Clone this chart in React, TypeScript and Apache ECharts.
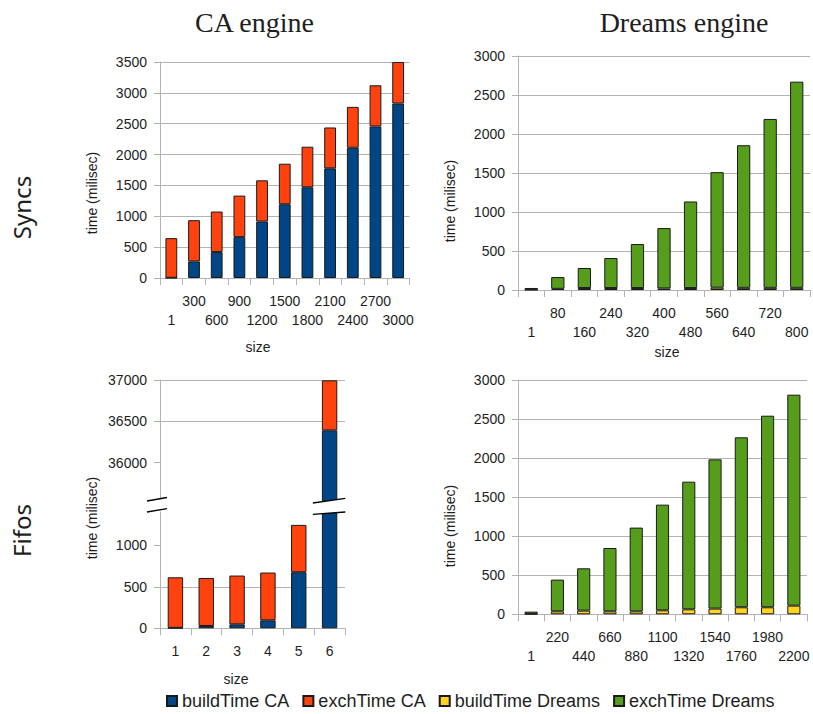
import React, { useEffect, useRef } from 'react';
import * as echarts from 'echarts';

// ---- data ----
const syncCaSizes = ['1', '300', '600', '900', '1200', '1500', '1800', '2100', '2400', '2700', '3000'];
const syncCaBuild = [3, 269, 420, 662, 915, 1195, 1470, 1777, 2111, 2456, 2827];
const syncCaExch = [643, 668, 657, 673, 668, 657, 657, 662, 662, 667, 673];

const syncDreamsSizes = ['1', '80', '160', '240', '320', '400', '480', '560', '640', '720', '800'];
const syncDreamsBuild = [4, 15, 25, 25, 25, 20, 25, 30, 28, 28, 28];
const syncDreamsExch = [22, 151, 257, 385, 564, 774, 1110, 1481, 1828, 2165, 2643];

const fifoCaSizes = ['1', '2', '3', '4', '5', '6'];
const fifoCaBuild = [5, 28, 48, 96, 675, 36391];
const fifoCaExch = [609, 578, 587, 575, 570, 605];

const fifoDreamsSizes = ['1', '220', '440', '660', '880', '1100', '1320', '1540', '1760', '1980', '2200'];
const fifoDreamsBuild = [5, 38, 47, 38, 38, 51, 64, 73, 90, 90, 111];
const fifoDreamsExch = [29, 406, 542, 811, 1072, 1353, 1634, 1911, 2176, 2453, 2701];

const seriesNames = ['buildTime CA', 'exchTime CA', 'buildTime Dreams', 'exchTime Dreams'];
const colors = ['#004586', '#ff420e', '#ffd320', '#579d1c'];

// broken axis ranges for the CA / Fifos chart
const upperRange = [35500, 37000];
const lowerRange = [0, 1400];

const GRID = '#b3b3b3';
const TXT = '#1e1e1e';
const SANS = '"Liberation Sans", Arial, sans-serif';

export default function App() {
  const ref = useRef<HTMLDivElement>(null);

  useEffect(() => {
    const chart = echarts.init(ref.current!, null, { renderer: 'svg' });

    const grids = [
      { left: 160, top: 62, width: 249.5, height: 216 },
      { left: 518, top: 56, width: 292, height: 234 },
      { left: 160, top: 380, width: 185, height: 124 },
      { left: 160, top: 512, width: 185, height: 116.3 },
      { left: 518, top: 380, width: 289, height: 234.3 },
    ];

    const altFormatter = (v: string, i: number) => (i % 2 === 0 ? '\n' + v : v);

    const xAxisBase = (gi: number, data: string[], alt: boolean, show = true) => ({
      type: 'category',
      gridIndex: gi,
      data,
      show,
      axisLine: { show, lineStyle: { color: GRID, width: 1 } },
      axisTick: { show, length: 7, lineStyle: { color: GRID } },
      axisLabel: {
        show,
        interval: 0,
        fontSize: 14,
        fontFamily: SANS,
        color: TXT,
        margin: 13,
        lineHeight: 19,
        formatter: alt ? altFormatter : undefined,
      },
      splitLine: { show: false },
    });

    const yAxisBase = (gi: number, min: number, max: number, extra: any = {}) => ({
      type: 'value',
      gridIndex: gi,
      min,
      max,
      interval: 500,
      axisLine: { show: true, lineStyle: { color: GRID, width: 1 } },
      axisTick: { show: true, length: 6, lineStyle: { color: GRID }, ...(extra.axisTick || {}) },
      axisLabel: {
        fontSize: 14,
        fontFamily: SANS,
        color: TXT,
        margin: 13,
        formatter: (v: number) => String(v),
        ...(extra.axisLabel || {}),
      },
      splitLine: { show: true, lineStyle: { color: GRID, width: 1 }, ...(extra.splitLine || {}) },
    });

    const bar = (nameIdx: number, gi: number, data: any[], width: string) => ({
      type: 'bar',
      name: seriesNames[nameIdx],
      xAxisIndex: gi,
      yAxisIndex: gi,
      stack: 'stack' + gi,
      data,
      barWidth: width,
      clip: true,
      itemStyle: { color: colors[nameIdx], borderColor: '#1a1a1a', borderWidth: 1 },
      emphasis: { disabled: true },
    });

    // split Fifos CA data into upper / lower segments
    const fifoTotals = fifoCaBuild.map((b, i) => b + fifoCaExch[i]);
    const upperBuild = fifoCaBuild.map((b, i) => (fifoTotals[i] > upperRange[0] ? b : '-'));
    const upperExch = fifoCaExch.map((e, i) => (fifoTotals[i] > upperRange[0] ? e : '-'));
    const lowerBuild = fifoCaBuild.slice();
    const lowerExch = fifoCaExch.map((e, i) => (fifoCaBuild[i] < lowerRange[1] ? e : '-'));

    // break decoration geometry (derived from grid layout)
    const bl = grids[3];
    const n = fifoCaSizes.length;
    const cx = bl.left + (bl.width * (n - 0.5)) / n;
    const half = (bl.width / n) * 0.5 / 2;
    const bxl = cx - half - 9;
    const bxr = cx + half + 8;
    const ax = bl.left;

    const breakGraphics: any[] = [
      { type: 'polygon', z: 100, shape: { points: [[ax - 13, 501], [ax + 7, 497.5], [ax + 7, 508.7], [ax - 13, 512]] }, style: { fill: '#fff' } },
      { type: 'line', z: 101, shape: { x1: ax - 13, y1: 501, x2: ax + 7, y2: 497.5 }, style: { stroke: '#000', lineWidth: 1.3 } },
      { type: 'line', z: 101, shape: { x1: ax - 13, y1: 512, x2: ax + 7, y2: 508.7 }, style: { stroke: '#000', lineWidth: 1.3 } },
      { type: 'polygon', z: 100, shape: { points: [[bxl, 503], [bxr, 498.3], [bxr, 512], [bxl, 514.3]] }, style: { fill: '#fff' } },
      { type: 'line', z: 101, shape: { x1: bxl, y1: 503, x2: bxr, y2: 498.3 }, style: { stroke: '#000', lineWidth: 1.3 } },
      { type: 'line', z: 101, shape: { x1: bxl, y1: 514.3, x2: bxr, y2: 512 }, style: { stroke: '#000', lineWidth: 1.3 } },
    ];

    const text = (t: string, x: number, y: number, font: string, rotate = false) => ({
      type: 'text',
      x,
      y,
      rotation: rotate ? Math.PI / 2 : 0,
      z: 50,
      style: {
        text: t,
        font,
        fill: TXT,
        align: 'center',
        verticalAlign: 'middle',
        textAlign: 'center',
        textVerticalAlign: 'middle',
      },
    });

    const labelFont = '14px "Liberation Sans", Arial, sans-serif';
    const titleFont = '28px "Liberation Serif", "DejaVu Serif", serif';
    const rowFont = '24px "Noto Sans", "Open Sans", sans-serif';

    const option: any = {
      animation: false,
      backgroundColor: '#fff',
      grid: grids.map((g) => ({ ...g, containLabel: false })),
      xAxis: [
        xAxisBase(0, syncCaSizes, true),
        xAxisBase(1, syncDreamsSizes, true),
        xAxisBase(2, fifoCaSizes, false, false),
        xAxisBase(3, fifoCaSizes, false),
        xAxisBase(4, fifoDreamsSizes, true),
      ],
      yAxis: [
        yAxisBase(0, 0, 3500),
        yAxisBase(1, 0, 3000),
        yAxisBase(2, upperRange[0], upperRange[1], {
          axisLabel: { showMinLabel: false },
          axisTick: { customValues: [36000, 36500, 37000] },
          splitLine: { showMinLine: false },
        }),
        yAxisBase(3, lowerRange[0], lowerRange[1], {
          axisLabel: { showMaxLabel: false },
          axisTick: { customValues: [0, 500, 1000] },
          splitLine: { showMaxLine: false },
        }),
        yAxisBase(4, 0, 3000),
      ],
      legend: {
        data: seriesNames,
        left: 166,
        top: 692,
        padding: 0,
        itemWidth: 10,
        itemHeight: 10,
        itemGap: 13,
        icon: 'rect',
        selectedMode: false,
        textStyle: { fontSize: 18, fontFamily: SANS, color: TXT, padding: [0, 0, 0, 0] },
      },
      series: [
        bar(0, 0, syncCaBuild, '52%'),
        bar(1, 0, syncCaExch, '52%'),
        bar(2, 1, syncDreamsBuild, '50%'),
        bar(3, 1, syncDreamsExch, '50%'),
        bar(0, 2, upperBuild, '50%'),
        bar(1, 2, upperExch, '50%'),
        bar(0, 3, lowerBuild, '50%'),
        bar(1, 3, lowerExch, '50%'),
        bar(2, 4, fifoDreamsBuild, '50%'),
        bar(3, 4, fifoDreamsExch, '50%'),
      ],
      graphic: [
        text('CA engine', 254.5, 22, titleFont),
        text('Dreams engine', 684, 22, titleFont),
        text('Syncs', 21, 207.5, rowFont, true),
        text('Fifos', 21, 530.5, rowFont, true),
        text('time (milisec)', 92, 193, labelFont, true),
        text('time (milisec)', 450, 201, labelFont, true),
        text('time (milisec)', 92, 518, labelFont, true),
        text('time (milisec)', 450, 526, labelFont, true),
        text('size', 258, 347, labelFont),
        text('size', 667, 352, labelFont),
        text('size', 236, 679, labelFont),
        ...breakGraphics,
      ],
    };

    chart.setOption(option);
    return () => chart.dispose();
  }, []);

  return (
    <div
      ref={ref}
      style={{ position: 'fixed', left: 0, top: 0, width: 813, height: 714, background: '#fff' }}
    />
  );
}
